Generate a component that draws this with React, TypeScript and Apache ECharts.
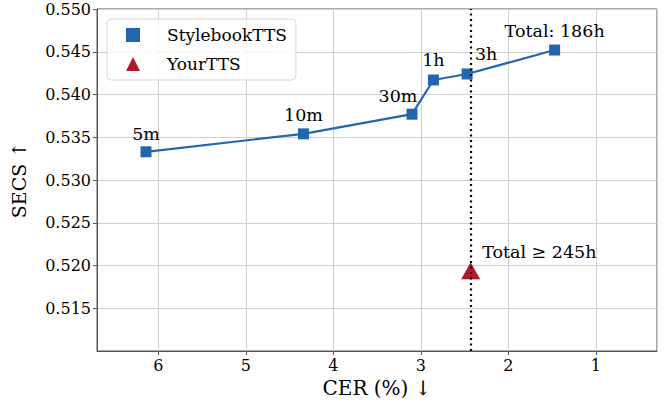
import React, { useEffect, useRef } from "react";
import * as echarts from "echarts";

// Data
const stylebookCer = [6.14, 4.34, 3.1, 2.855, 2.47, 1.47];
const stylebookSecs = [0.5333, 0.5354, 0.5377, 0.5417, 0.5424, 0.5452];
const stylebookLabels = ["5m", "10m", "30m", "1h", "3h", "Total: 186h"];
const yourTtsCer = [2.43];
const yourTtsSecs = [0.5194];
const yourTtsLabels = ["Total \u2265 245h"];
const referenceCer = 2.43;

// label placement (style only)
const stylebookLabelOffsets = [
  [0, 0],
  [0, -1],
  [-14, -1],
  [0, -2],
  [19, -2],
  [0, -2],
];

const FONT = "'DejaVu Serif', serif";
const BLUE = "#2366ae";
const RED = "#b5172b";

export default function App() {
  const ref = useRef<HTMLDivElement>(null);
  useEffect(() => {
    document.body.style.margin = "0";
    if (!ref.current) return;
    const chart = echarts.init(ref.current, null, { renderer: "svg" });
    chart.setOption({
      animation: false,
      textStyle: { fontFamily: FONT, color: "#000" },
      grid: {
        left: 97,
        right: 14,
        top: 9,
        bottom: 54,
        show: true,
        borderColor: "#555",
        borderWidth: 1,
      },
      legend: {
        orient: "vertical",
        left: 107,
        top: 19,
        padding: [6, 9, 6, 19],
        itemWidth: 14,
        itemHeight: 14,
        itemGap: 9,
        borderColor: "#d6d6d6",
        borderWidth: 1,
        borderRadius: 4,
        backgroundColor: "rgba(255,255,255,0.8)",
        textStyle: {
          fontFamily: FONT,
          fontSize: 17,
          color: "#000",
          padding: [0, 0, 0, 22],
          lineHeight: 20,
        },
        data: [
          { name: "StylebookTTS", icon: "rect" },
          { name: "YourTTS", icon: "triangle" },
        ],
      },
      xAxis: {
        type: "value",
        inverse: true,
        min: 0.3,
        max: 6.7,
        splitNumber: 6,
        name: "CER (%) \u2193",
        nameLocation: "middle",
        nameGap: 24,
        nameTextStyle: { fontFamily: FONT, fontSize: 20, color: "#000" },
        axisLine: { show: true, lineStyle: { color: "#555", width: 1 } },
        axisTick: { show: true, length: 4, lineStyle: { color: "#555" } },
        axisLabel: {
          showMinLabel: false,
          showMaxLabel: false,
          fontFamily: FONT,
          fontSize: 16,
          color: "#000",
          margin: 6,
        },
        splitLine: { show: true, lineStyle: { color: "#cfcfcf", width: 1 } },
      },
      yAxis: {
        type: "value",
        min: 0.51,
        max: 0.55,
        interval: 0.005,
        name: "SECS \u2191",
        nameLocation: "middle",
        nameGap: 69,
        nameTextStyle: { fontFamily: FONT, fontSize: 19, color: "#000" },
        axisLine: { show: true, lineStyle: { color: "#555", width: 1 } },
        axisTick: { show: true, length: 4, lineStyle: { color: "#555" } },
        axisLabel: {
          showMinLabel: false,
          fontFamily: FONT,
          fontSize: 16,
          color: "#000",
          margin: 6,
          formatter: (v: number) => v.toFixed(3),
        },
        splitLine: { show: true, lineStyle: { color: "#cfcfcf", width: 1 } },
      },
      series: [
        {
          name: "StylebookTTS",
          type: "line",
          symbol: "rect",
          symbolSize: 11,
          itemStyle: { color: BLUE },
          lineStyle: { color: BLUE, width: 2.2 },
          label: {
            show: true,
            position: "top",
            distance: 3,
            fontFamily: FONT,
            fontSize: 17.5,
            color: "#000",
          },
          data: stylebookCer.map((x, i) => ({
            value: [x, stylebookSecs[i]],
            label: {
              formatter: stylebookLabels[i],
              offset: stylebookLabelOffsets[i],
            },
          })),
        },
        {
          name: "YourTTS",
          type: "scatter",
          symbol: "triangle",
          symbolSize: [19, 17],
          itemStyle: { color: RED, opacity: 1 },
          label: {
            show: true,
            position: "right",
            distance: 2,
            offset: [0, -19],
            fontFamily: FONT,
            fontSize: 17.5,
            color: "#000",
          },
          data: yourTtsCer.map((x, i) => ({
            value: [x, yourTtsSecs[i]],
            label: { formatter: yourTtsLabels[i] },
          })),
          markLine: {
            silent: true,
            symbol: ["none", "none"],
            label: { show: false },
            lineStyle: { color: "#000", width: 2.2, type: [2, 3.5], opacity: 1 },
            data: [{ xAxis: referenceCer }],
          },
        },
      ],
    });
    return () => chart.dispose();
  }, []);
  return <div ref={ref} style={{ width: 671, height: 405 }} />;
}
